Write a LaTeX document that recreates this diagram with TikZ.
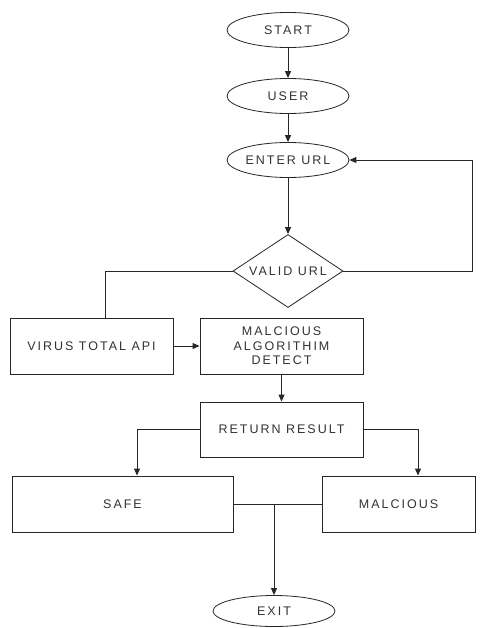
\documentclass[tikz,border=0pt]{standalone}
\usepackage{fontspec}
\setmainfont[LetterSpace=16]{Liberation Sans}
\usetikzlibrary{shapes.geometric,arrows.meta}
\begin{document}
\begin{tikzpicture}[x=1pt,y=-1pt,
  every node/.style={font=\fontsize{12.5}{14.5}\selectfont, text=black!80, inner sep=0pt},
  term/.style={draw=black!85, line width=0.8pt, ellipse, minimum width=122pt, minimum height=35pt},
  proc/.style={draw=black!85, line width=0.9pt, rectangle, align=center},
  decide/.style={draw=black!85, line width=0.8pt, diamond, aspect=1.5, minimum width=110pt, minimum height=73pt},
  arr/.style={draw=black!85, line width=0.9pt, -{Triangle[length=7pt,width=6pt]}},
  ln/.style={draw=black!85, line width=0.9pt}]
\useasboundingbox (0,0) rectangle (485,628);
\fill[white] (0,0) rectangle (485,628);
\node[term] (start) at (288,30) {START};
\node[term] (user) at (288,96) {USER};
\node[term] (enter) at (288,160) {ENTER URL};
\node[decide] (valid) at (288,271) {VALID URL};
\node[proc, minimum width=163pt, minimum height=56pt] (virus) at (91.5,346) {VIRUS TOTAL API};
\node[proc, minimum width=163pt, minimum height=56pt] (malc) at (281.5,346) {MALCIOUS\\ALGORITHIM\\DETECT};
\node[proc, minimum width=163pt, minimum height=55pt] (ret) at (281.5,429.5) {RETURN RESULT};
\node[proc, minimum width=221pt, minimum height=56pt] (safe) at (122.5,504) {SAFE};
\node[proc, minimum width=153pt, minimum height=56pt] (mal) at (398.5,504) {MALCIOUS};
\node[term, minimum height=31pt] (exit) at (274,611) {EXIT};
\coordinate (j) at (274,504);
\draw[arr] (start) -- (user);
\draw[arr] (user) -- (enter);
\draw[arr] (enter) -- (valid);
\draw[arr] (valid.east) -- ++(129,0) |- (enter.east);
\draw[ln] (valid.west) -| ([xshift=13.5pt]virus.north);
\draw[arr] (virus) -- (malc);
\draw[arr] (malc) -- (ret);
\draw[arr] (ret.west) -| ([xshift=14.5pt]safe.north);
\draw[arr] (ret.east) -| ([xshift=19.5pt]mal.north);
\draw[ln] (safe.east) -- (mal.west);
\draw[arr] (j) -- (exit);
\end{tikzpicture}
\end{document}
